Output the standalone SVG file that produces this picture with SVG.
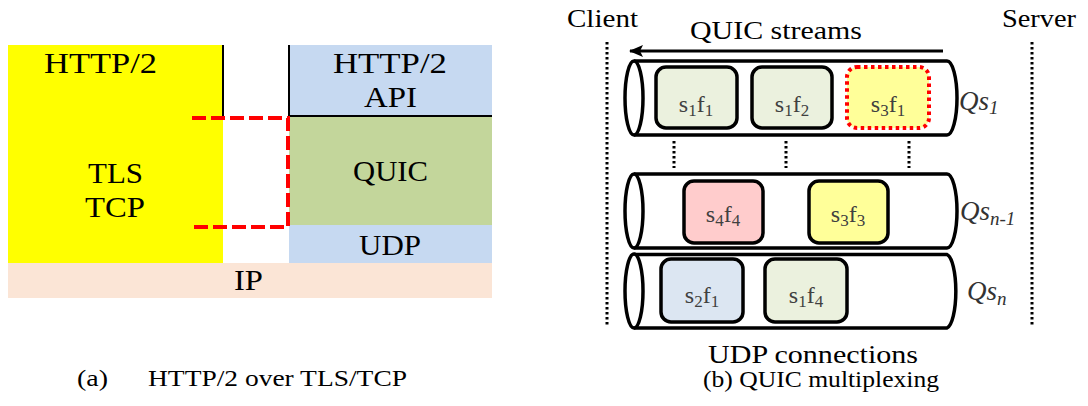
<svg xmlns="http://www.w3.org/2000/svg" width="1088" height="406" viewBox="0 0 1088 406">
<defs>
<style>
text{font-family:"Liberation Serif","Times New Roman",serif}
.t{fill:#000}
.big{font-size:29px}
.mid{font-size:26px}
.cap{font-size:24px}
.lbl{font-size:24px;fill:#404040;text-anchor:middle}
.sub{font-size:17px}
.qs{font-size:27px;font-style:italic;fill:#333}
.qsub{font-size:19px}
.cyl{fill:#fff;stroke:#000;stroke-width:3.5}
.box{stroke:#000;stroke-width:3.5}
.dot{stroke:#000;stroke-width:3;stroke-dasharray:2.5 2.5;fill:none}
</style>
<marker id="ah" markerWidth="14" markerHeight="12" refX="13" refY="6" orient="auto" markerUnits="userSpaceOnUse">
<path d="M0,0 L14,6 L0,12 L3,6 Z" fill="#000"/>
</marker>
</defs>
<rect width="1088" height="406" fill="#fff"/>

<g id="http2-left">
<rect x="8" y="45" width="215" height="218" fill="#ffff00"/>
<text class="t big" x="44" y="73" textLength="113" lengthAdjust="spacingAndGlyphs">HTTP/2</text>
</g>
<g id="tls-tcp">
<text class="t big" x="88" y="183" textLength="55" lengthAdjust="spacingAndGlyphs">TLS</text>
<text class="t big" x="85" y="217" textLength="60" lengthAdjust="spacingAndGlyphs">TCP</text>
</g>
<g id="http2-api">
<rect x="289" y="45" width="203" height="71" fill="#c6d9f1"/>
<text class="t big" x="333" y="73" textLength="114" lengthAdjust="spacingAndGlyphs">HTTP/2</text>
<text class="t big" x="364" y="107" textLength="53" lengthAdjust="spacingAndGlyphs">API</text>
</g>
<g id="quic">
<rect x="289" y="116" width="203" height="109" fill="#c3d69b"/>
<text class="t big" x="353" y="181" textLength="75" lengthAdjust="spacingAndGlyphs">QUIC</text>
</g>
<g id="udp">
<rect x="289" y="225" width="203" height="38" fill="#c6d9f1"/>
<text class="t big" x="359" y="255" textLength="62" lengthAdjust="spacingAndGlyphs">UDP</text>
</g>
<g id="ip">
<rect x="8" y="263" width="484" height="35" fill="#fbe5d6"/>
<text class="t big" x="234" y="290" textLength="29" lengthAdjust="spacingAndGlyphs">IP</text>
</g>
<g id="lines-a">
<line x1="223" y1="45" x2="223" y2="116" stroke="#000" stroke-width="2"/>
<line x1="289" y1="45" x2="289" y2="116" stroke="#000" stroke-width="2"/>
<line x1="289" y1="116" x2="492" y2="116" stroke="#000" stroke-width="2"/>
<path d="M192,118 H288 V227 H192" fill="none" stroke="#ff0000" stroke-width="4" stroke-dasharray="14 5"/>
</g>
<g id="caption-a">
<text class="t cap" x="77" y="386" textLength="31" lengthAdjust="spacingAndGlyphs">(a)</text>
<text class="t cap" x="148" y="386" textLength="259" lengthAdjust="spacingAndGlyphs">HTTP/2 over TLS/TCP</text>
</g>

<g id="labels-b">
<text class="t mid" x="567" y="27" textLength="71" lengthAdjust="spacingAndGlyphs">Client</text>
<text class="t mid" x="1002" y="27" textLength="74" lengthAdjust="spacingAndGlyphs">Server</text>
<text class="t mid" x="690" y="39" textLength="172" lengthAdjust="spacingAndGlyphs">QUIC streams</text>
<text class="t" font-size="25" x="708" y="363" textLength="210" lengthAdjust="spacingAndGlyphs">UDP connections</text>
<text class="t cap" x="703" y="387" textLength="236" lengthAdjust="spacingAndGlyphs">(b) QUIC multiplexing</text>
</g>

<g id="connectors">
<line x1="943" y1="51" x2="630" y2="51" stroke="#000" stroke-width="3" marker-end="url(#ah)"/>
<line class="dot" x1="607" y1="42" x2="607" y2="327"/>
<line class="dot" x1="1032" y1="42" x2="1032" y2="327"/>
<line class="dot" x1="674" y1="141" x2="674" y2="168"/>
<line class="dot" x1="786" y1="141" x2="786" y2="168"/>
<line class="dot" x1="909" y1="141" x2="909" y2="168"/>
</g>

<g id="qs1">
<path class="cyl" d="M634,61 H947 A10,37 0 0 1 947,135 H634"/>
<ellipse class="cyl" cx="634" cy="98" rx="9" ry="37"/>
<text class="qs" x="959" y="110">Qs<tspan class="qsub" dy="4">1</tspan></text>
</g>
<g id="s1f1">
<rect class="box" x="656" y="67" width="81" height="61" rx="10" fill="#ebf1de"/>
<text class="lbl" x="696" y="112">s<tspan class="sub" dy="4">1</tspan><tspan dy="-4">f</tspan><tspan class="sub" dy="4">1</tspan></text>
</g>
<g id="s1f2">
<rect class="box" x="752" y="67" width="80" height="61" rx="10" fill="#ebf1de"/>
<text class="lbl" x="792" y="112">s<tspan class="sub" dy="4">1</tspan><tspan dy="-4">f</tspan><tspan class="sub" dy="4">2</tspan></text>
</g>
<g id="s3f1">
<rect x="847" y="67" width="82" height="61" rx="10" fill="#ffff99" stroke="#ff0000" stroke-width="4" stroke-dasharray="3.5 3.5"/>
<text class="lbl" x="888" y="112">s<tspan class="sub" dy="4">3</tspan><tspan dy="-4">f</tspan><tspan class="sub" dy="4">1</tspan></text>
</g>

<g id="qsn-1">
<path class="cyl" d="M634,174 H947 A10,37 0 0 1 947,248 H634"/>
<ellipse class="cyl" cx="634" cy="211" rx="9" ry="37"/>
<text class="qs" x="960" y="220">Qs<tspan class="qsub" dy="5">n-1</tspan></text>
</g>
<g id="s4f4">
<rect class="box" x="684" y="181" width="79" height="62" rx="10" fill="#ffcccc"/>
<text class="lbl" x="723" y="222">s<tspan class="sub" dy="4">4</tspan><tspan dy="-4">f</tspan><tspan class="sub" dy="4">4</tspan></text>
</g>
<g id="s3f3">
<rect class="box" x="809" y="181" width="79" height="62" rx="10" fill="#ffff99"/>
<text class="lbl" x="848" y="222">s<tspan class="sub" dy="4">3</tspan><tspan dy="-4">f</tspan><tspan class="sub" dy="4">3</tspan></text>
</g>

<g id="qsn">
<path class="cyl" d="M634,254.5 H947 A10,37 0 0 1 947,328 H634"/>
<ellipse class="cyl" cx="634" cy="291" rx="9" ry="37"/>
<text class="qs" x="967" y="300">Qs<tspan class="qsub" dy="5">n</tspan></text>
</g>
<g id="s2f1">
<rect class="box" x="661" y="259" width="82" height="63" rx="10" fill="#dce6f2"/>
<text class="lbl" x="702" y="303">s<tspan class="sub" dy="4">2</tspan><tspan dy="-4">f</tspan><tspan class="sub" dy="4">1</tspan></text>
</g>
<g id="s1f4">
<rect class="box" x="765" y="259" width="82" height="63" rx="10" fill="#ebf1de"/>
<text class="lbl" x="806" y="303">s<tspan class="sub" dy="4">1</tspan><tspan dy="-4">f</tspan><tspan class="sub" dy="4">4</tspan></text>
</g>
</svg>
